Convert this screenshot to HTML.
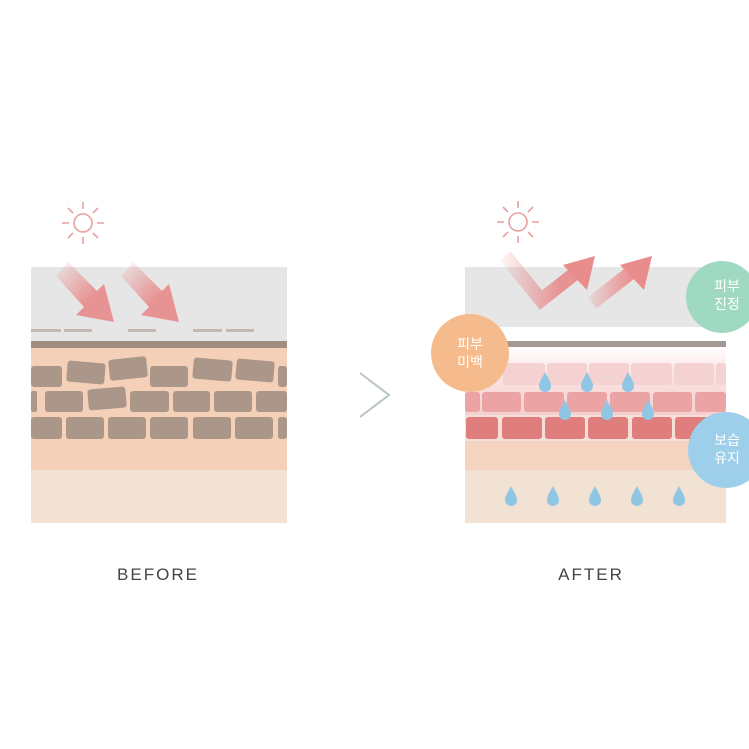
<!DOCTYPE html><html><head><meta charset="utf-8"><style>body{margin:0;background:#fff}svg{display:block}</style></head><body>
<svg width="749" height="749" viewBox="0 0 749 749" xmlns="http://www.w3.org/2000/svg">
<defs>
<linearGradient id="ar" x1="0" y1="0" x2="1" y2="1"><stop offset="0" stop-color="#e88a8a" stop-opacity="0"/><stop offset="0.6" stop-color="#e88a8a" stop-opacity="0.9"/></linearGradient>
<linearGradient id="g1" gradientUnits="userSpaceOnUse" x1="500" y1="0" x2="560" y2="0"><stop offset="0" stop-color="#e88a8a" stop-opacity="0.05"/><stop offset="1" stop-color="#e88a8a" stop-opacity="0.9"/></linearGradient>
<linearGradient id="g2" gradientUnits="userSpaceOnUse" x1="585" y1="0" x2="630" y2="0"><stop offset="0" stop-color="#e88a8a" stop-opacity="0.1"/><stop offset="1" stop-color="#e88a8a" stop-opacity="0.9"/></linearGradient>
<linearGradient id="sk" x1="0" y1="0" x2="0" y2="1"><stop offset="0" stop-color="#fff"/><stop offset="0.3" stop-color="#fbe3e3"/><stop offset="1" stop-color="#f2c3c3"/></linearGradient>
<g id="drop"><path d="M0,-11 C3,-5 6,-1 6,3 A6,6 0 0 1 -6,3 C-6,-1 -3,-5 0,-11Z" fill="#8fc6e3"/></g>
<g id="sun" stroke="#e8a0a0" stroke-width="1.6" fill="none"><circle r="9"/><path d="M0,-14V-21M0,14V21M-14,0H-21M14,0H21M10,-10L15,-15M-10,-10L-15,-15M10,10L15,15M-10,10L-15,15"/></g>
</defs>
<rect x="31" y="267" width="256" height="74" fill="#e6e6e6"/>
<g fill="#c4b8b2"><rect x="31" y="329" width="30" height="3"/><rect x="64" y="329" width="28" height="3"/><rect x="128" y="329" width="28" height="3"/><rect x="193" y="329" width="29" height="3"/><rect x="226" y="329" width="28" height="3"/></g>
<rect x="31" y="341" width="256" height="7" fill="#a08c80"/>
<rect x="31" y="348" width="256" height="122" fill="#f4d0b8"/>
<rect x="31" y="470" width="256" height="53" fill="#f2e2d4"/>
<g fill="#ab978a">
<rect x="31" y="366" width="31" height="21" rx="3"/>
<rect x="67" y="362" width="38" height="21" rx="3" transform="rotate(5 86 372)"/>
<rect x="109" y="358" width="38" height="21" rx="3" transform="rotate(-6 128 368)"/>
<rect x="150" y="366" width="38" height="21" rx="3"/>
<rect x="193" y="359" width="39" height="21" rx="3" transform="rotate(5 212 370)"/>
<rect x="236" y="360" width="38" height="21" rx="3" transform="rotate(5 255 371)"/>
<rect x="278" y="366" width="9" height="21" rx="3"/>
<rect x="31" y="391" width="6" height="21" rx="2"/>
<rect x="45" y="391" width="38" height="21" rx="3"/>
<rect x="88" y="388" width="38" height="21" rx="3" transform="rotate(-5 107 398)"/>
<rect x="130" y="391" width="39" height="21" rx="3"/>
<rect x="173" y="391" width="37" height="21" rx="3"/>
<rect x="214" y="391" width="38" height="21" rx="3"/>
<rect x="256" y="391" width="31" height="21" rx="3"/>
<rect x="31" y="417" width="31" height="22" rx="3"/>
<rect x="66" y="417" width="38" height="22" rx="3"/>
<rect x="108" y="417" width="38" height="22" rx="3"/>
<rect x="150" y="417" width="38" height="22" rx="3"/>
<rect x="193" y="417" width="38" height="22" rx="3"/>
<rect x="235" y="417" width="38" height="22" rx="3"/>
<rect x="278" y="417" width="9" height="22" rx="3"/>
</g>
<path d="M68,262 L97,291 L104,284 L114,322 L76,315 L84,307 L56,276Z" fill="url(#ar)"/>
<path d="M133,262 L162,291 L169,284 L179,322 L141,315 L149,307 L121,276Z" fill="url(#ar)"/>
<use href="#sun" x="83" y="223"/>
<path d="M360,373 L389,395 L360,417" fill="none" stroke="#b9c4c8" stroke-width="2"/>
<rect x="465" y="267" width="261" height="60" fill="#e6e6e6"/>
<rect x="465" y="327" width="261" height="14" fill="#fff"/>
<rect x="465" y="346" width="261" height="94" fill="url(#sk)"/>
<rect x="505" y="341" width="221" height="6" fill="#a49892"/>
<g fill="#f5d2d2">
<rect x="503" y="363" width="42" height="22" rx="3"/><rect x="547" y="363" width="40" height="22" rx="3"/><rect x="589" y="363" width="40" height="22" rx="3"/><rect x="631" y="363" width="41" height="22" rx="3"/><rect x="674" y="363" width="40" height="22" rx="3"/><rect x="716" y="363" width="10" height="22" rx="3"/>
</g>
<g fill="#eba3a3">
<rect x="465" y="392" width="15" height="20" rx="3"/><rect x="482" y="392" width="39" height="20" rx="3"/><rect x="524" y="392" width="40" height="20" rx="3"/><rect x="567" y="392" width="40" height="20" rx="3"/><rect x="610" y="392" width="40" height="20" rx="3"/><rect x="653" y="392" width="39" height="20" rx="3"/><rect x="695" y="392" width="31" height="20" rx="3"/>
</g>
<rect x="465" y="415" width="261" height="26" fill="#f5e0d8"/>
<g fill="#e07e7e">
<rect x="466" y="417" width="32" height="22" rx="3"/><rect x="502" y="417" width="40" height="22" rx="3"/><rect x="545" y="417" width="40" height="22" rx="3"/><rect x="588" y="417" width="40" height="22" rx="3"/><rect x="632" y="417" width="40" height="22" rx="3"/><rect x="675" y="417" width="51" height="22" rx="3"/>
</g>
<rect x="465" y="441" width="261" height="29" fill="#f4d4c0"/>
<rect x="465" y="470" width="261" height="53" fill="#f2e2d4"/>
<use href="#drop" x="545" y="383"/><use href="#drop" x="587" y="383"/><use href="#drop" x="628" y="383"/>
<use href="#drop" x="565" y="411"/><use href="#drop" x="607" y="411"/><use href="#drop" x="648" y="411"/>
<use href="#drop" x="511" y="497"/><use href="#drop" x="553" y="497"/><use href="#drop" x="595" y="497"/><use href="#drop" x="637" y="497"/><use href="#drop" x="679" y="497"/>
<polyline points="505,256 541,300 578,271" fill="none" stroke="url(#g1)" stroke-width="14" stroke-linejoin="miter"/>
<path d="M595,256 L587,290 L563,265Z" fill="#e88c8c"/>
<polyline points="592,303 634,270" fill="none" stroke="url(#g2)" stroke-width="14"/>
<path d="M652,256 L644,290 L620,265Z" fill="#e88c8c"/>
<use href="#sun" x="518" y="222"/>
<circle cx="722" cy="297" r="36" fill="#a0d9c1"/>
<circle cx="470" cy="353" r="39" fill="#f5bb8c"/>
<circle cx="726" cy="450" r="38" fill="#9ecfea"/>
<g font-family="Liberation Sans, Noto Sans CJK KR, sans-serif" font-size="14" fill="#fff" text-anchor="middle">
<text x="727" y="291">피부</text><text x="727" y="309">진정</text>
<text x="470" y="349">피부</text><text x="470" y="367">미백</text>
<text x="727" y="445">보습</text><text x="727" y="463">유지</text>
</g>
<g font-family="Liberation Sans, sans-serif" font-size="17" fill="#444" text-anchor="middle" letter-spacing="2">
<text x="158" y="580">BEFORE</text><text x="591" y="580">AFTER</text>
</g>
</svg>
</body></html>
